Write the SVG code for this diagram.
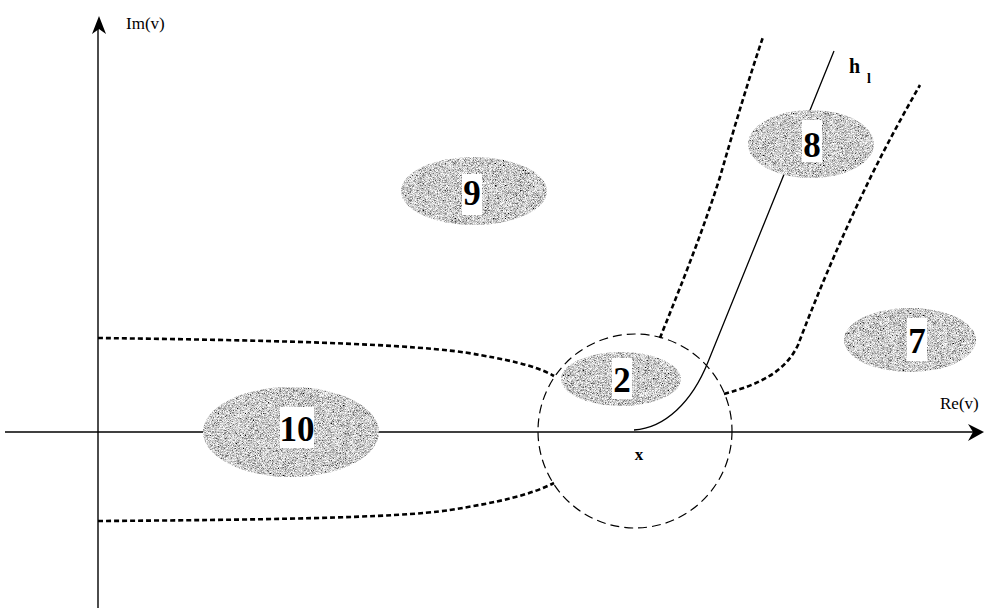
<svg xmlns="http://www.w3.org/2000/svg" width="986" height="610" viewBox="0 0 986 610">
<style>
.axis{stroke:#000;stroke-width:1.4;fill:none}
.dot{stroke:#000;stroke-width:2.6;fill:none;stroke-dasharray:5 3}
.circ{stroke:#000;stroke-width:1.2;fill:none;stroke-dasharray:9 5}
.sol{stroke:#000;stroke-width:1.3;fill:none}
.blob{fill:#999;filter:url(#grain)}
.box{fill:#fff}
.num{font-family:"Liberation Serif",serif;font-weight:bold;font-size:35px;text-anchor:middle;fill:#000}
.lab{font-family:"Liberation Serif",serif;font-size:17px;fill:#000}
.bl{font-family:"Liberation Serif",serif;font-weight:bold;fill:#000}
</style>
<defs>
<filter id="grain" x="-5%" y="-5%" width="110%" height="110%">
<feTurbulence type="fractalNoise" baseFrequency="1.6" numOctaves="1" seed="7" result="n"/>
<feColorMatrix in="n" type="matrix" values="2.2 0 0 0 -0.5  2.2 0 0 0 -0.5  2.2 0 0 0 -0.5  0 0 0 0 1" result="g"/>
<feComposite in="g" in2="SourceGraphic" operator="in"/>
</filter>
</defs>
<rect width="986" height="610" fill="#fff"/>

<g id="axes">
<line class="axis" x1="98" y1="608" x2="98" y2="24"/>
<path d="M99,16 L92,34 L99,29 L106,34 Z" fill="#000"/>
<line class="axis" x1="5" y1="432" x2="976" y2="432"/>
<path d="M984,432 L968,424 L973,432 L968,441 Z" fill="#000"/>
<text class="lab" x="126" y="29">Im(v)</text>
<text class="lab" x="940" y="409">Re(v)</text>
</g>

<g id="connectors">
<path class="dot" d="M98,338 C250,340 420,343 480,355 C520,362 540,368 554,376"/>
<path class="dot" d="M98,521 C250,520 400,518 450,510 C500,502 530,495 554,483"/>
<path class="dot" d="M660,338 C675,300 700,240 720,177 C735,125 750,75 763,37"/>
<path class="dot" d="M724,394 C760,384 785,372 798,345 C815,300 838,245 863,193 C880,157 900,120 920,85"/>
<path class="sol" d="M634,430 C665,428 692,402 708,362 L834,51"/>
</g>

<g id="node-10">
<ellipse class="blob" cx="291" cy="432" rx="88" ry="45"/>
<rect class="box" x="280" y="407" width="34" height="41"/>
<text class="num" x="297" y="441">10</text>
</g>
<g id="node-9">
<ellipse class="blob" cx="474" cy="191" rx="73" ry="34"/>
<rect class="box" x="462" y="174" width="20" height="41"/>
<text class="num" x="472" y="205">9</text>
</g>
<g id="node-8">
<ellipse class="blob" cx="811" cy="144" rx="63" ry="34"/>
<rect class="box" x="802" y="120" width="20" height="42"/>
<text class="num" x="812" y="157">8</text>
</g>
<g id="node-7">
<ellipse class="blob" cx="910" cy="340" rx="66" ry="32"/>
<rect class="box" x="907" y="318" width="20" height="43"/>
<text class="num" x="917" y="353">7</text>
</g>
<g id="node-2">
<ellipse class="blob" cx="621" cy="379" rx="60" ry="27"/>
<rect class="box" x="612" y="358" width="20" height="41"/>
<text class="num" x="622" y="392">2</text>
</g>

<g id="circle-x">
<circle class="circ" cx="635" cy="431" r="97"/>
<text class="bl" x="639" y="460" font-size="17" text-anchor="middle">x</text>
</g>

<g id="label-h1">
<text class="bl" x="849" y="73" font-size="20">h</text>
<text class="bl" x="867" y="83" font-size="14">l</text>
</g>
</svg>
